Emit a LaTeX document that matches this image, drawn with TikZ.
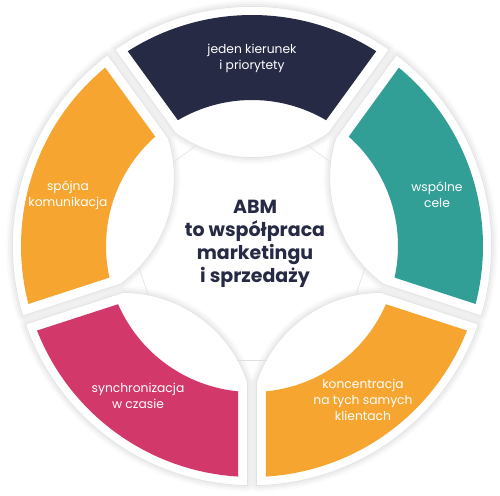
\documentclass[tikz,border=0pt]{standalone}
\usepackage{fontspec}
\setmainfont{Poppins}
\usetikzlibrary{shadows.blur}
\definecolor{navy}{RGB}{38,42,69}
\definecolor{teal}{RGB}{50,159,151}
\definecolor{amber}{RGB}{246,166,48}
\definecolor{berry}{RGB}{211,56,106}
\begin{document}
\begin{tikzpicture}[card/.style={fill=white,blur shadow={shadow xshift=0pt,shadow yshift=0pt,shadow blur radius=7pt,shadow opacity=22}},
	seglabel/.style={text=white,align=center,font=\fontsize{12.3}{16}\selectfont},
	hub/.style={text=navy,align=center,font=\fontsize{19}{23}\selectfont\bfseries},
	seam/.style={draw=black!12,line width=0.6pt}]
	\useasboundingbox (-252pt,-249pt) rectangle (248pt,246pt);
	% white tiles with a soft shadow
	\foreach \ang in {90,18,-54,-126,162}
	\path[card,rotate=\ang-90] (124.8:239pt) arc[start angle=124.8,end angle=55.2,radius=239pt] -- (56.1:136.8pt) arc[start angle=305.6,end angle=234.4,radius=131pt] -- cycle;
	% tiles again, then the coloured bands
	\foreach \ang/\col in {90/navy,18/teal,-54/amber,-126/berry,162/amber}{
		\fill[white,rotate=\ang-90] (124.8:239pt) arc[start angle=124.8,end angle=55.2,radius=239pt] -- (56.1:136.8pt) arc[start angle=305.6,end angle=234.4,radius=131pt] -- cycle;
		\fill[\col,rotate=\ang-90] (122.53:231pt) arc[start angle=122.53,end angle=57.47,radius=231pt] -- (59.5:146pt) arc[start angle=59.5,end angle=120.5,radius=146pt] -- cycle;
	}
	\foreach \ang [count=\i] in {18,90,162,-126,-54}{
		\coordinate (l\i) at ({\ang+28.6}:115pt);
		\coordinate (r\i) at ({\ang-28.6}:115pt);
	}
	\foreach \i/\j in {1/2,2/3,3/4,4/5,5/1}
	\draw[seam] (l\i) -- (r\j);
	\node[seglabel] (lead) at (0pt,188pt) {jeden kierunek\\i priorytety};
	\node[seglabel] (goals) at (185pt,51pt) {wspólne\\cele};
	\node[seglabel] (focus) at (111pt,-154pt) {koncentracja\\na tych samych\\klientach};
	\node[seglabel] (sync) at (-114pt,-150pt) {synchronizacja\\w czasie};
	\node[seglabel] (talk) at (-184pt,51pt) {spójna\\komunikacja};
	\node[hub] (abm) at (3pt,2pt) {ABM\\to współpraca\\marketingu\\i sprzedaży};
\end{tikzpicture}
\end{document}
